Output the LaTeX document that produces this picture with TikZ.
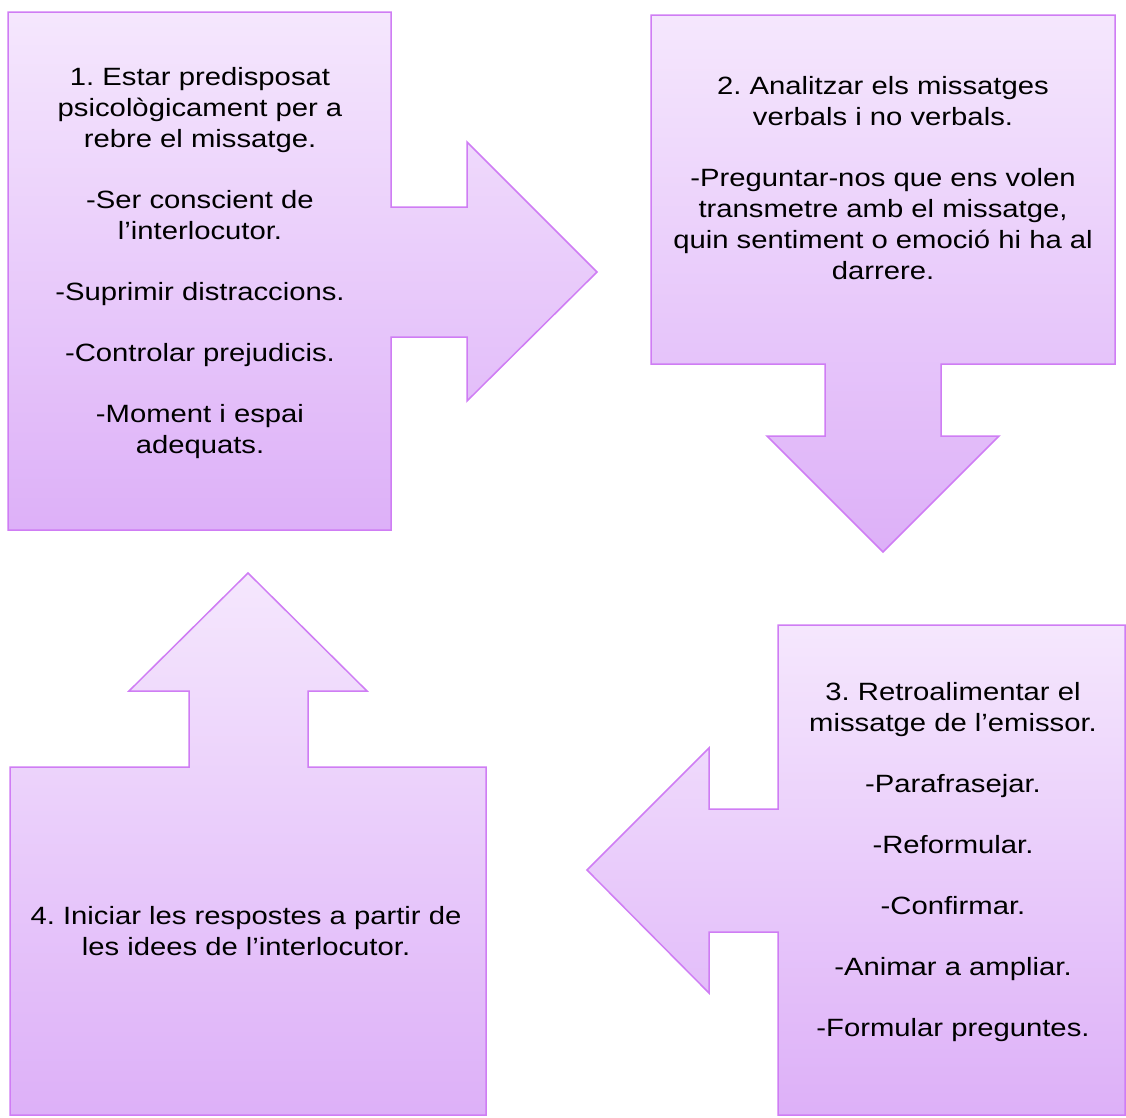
\documentclass[tikz,border=0pt]{standalone}
\usepackage{fontspec}
\setmainfont[FakeStretch=1.17]{Liberation Sans}
\definecolor{lilaline}{RGB}{207,125,244}
\definecolor{lilatop}{RGB}{245,231,253}
\definecolor{lilabottom}{RGB}{221,176,248}

\begin{document}
\begin{tikzpicture}[x=1pt, y=-1pt,
    arrowbox/.style={draw=lilaline, line width=1.5pt, line join=miter, top color=lilatop, bottom color=lilabottom},
    boxtext/.style={align=center, inner sep=0pt, font=\fontsize{25}{31}\selectfont\frenchspacing}]
  \useasboundingbox (0,0) rectangle (1126,1117);

  % box + arrow shapes
  \path[arrowbox] (8,12) -- (391,12) -- (391,207) -- (467,207) -- (467,142) -- (597,272)
    -- (467,401) -- (467,337) -- (391,337) -- (391,530) -- (8,530) -- cycle;
  \path[arrowbox] (651,15) -- (1115,15) -- (1115,364) -- (941,364) -- (941,436) -- (999,436)
    -- (883,552) -- (767,436) -- (825,436) -- (825,364) -- (651,364) -- cycle;
  \path[arrowbox] (778,625) -- (1125,625) -- (1125,1115) -- (778,1115) -- (778,932) -- (709,932)
    -- (709,993) -- (587,870) -- (709,748) -- (709,809) -- (778,809) -- cycle;
  \path[arrowbox] (10,767) -- (189,767) -- (189,691) -- (129,691) -- (248,573) -- (367,691)
    -- (308,691) -- (308,767) -- (486,767) -- (486,1115) -- (10,1115) -- cycle;

  % texts
  \node[boxtext] (T1) at (200,263) {1. Estar predisposat\\ psicològicament per a\\ rebre el missatge.\\[30pt]
    -Ser conscient de\\ l’interlocutor.\\[30pt] -Suprimir distraccions.\\[30pt] -Controlar prejudicis.\\[30pt]
    -Moment i espai\\ adequats.};
  \node[boxtext] (T2) at (883,178) {2. Analitzar els missatges\\ verbals i no verbals.\\[30pt]
    -Preguntar-nos que ens volen\\ transmetre amb el missatge,\\ quin sentiment o emoció hi ha al\\ darrere.};
  \node[boxtext] (T3) at (953,862) {3. Retroalimentar el\\ missatge de l’emissor.\\[30pt] -Parafrasejar.\\[30pt]
    -Reformular.\\[30pt] -Confirmar.\\[30pt] -Animar a ampliar.\\[30pt] -Formular preguntes.};
  \node[boxtext] (T4) at (246,931) {4. Iniciar les respostes a partir de\\ les idees de l’interlocutor.};

\end{tikzpicture}
\end{document}
